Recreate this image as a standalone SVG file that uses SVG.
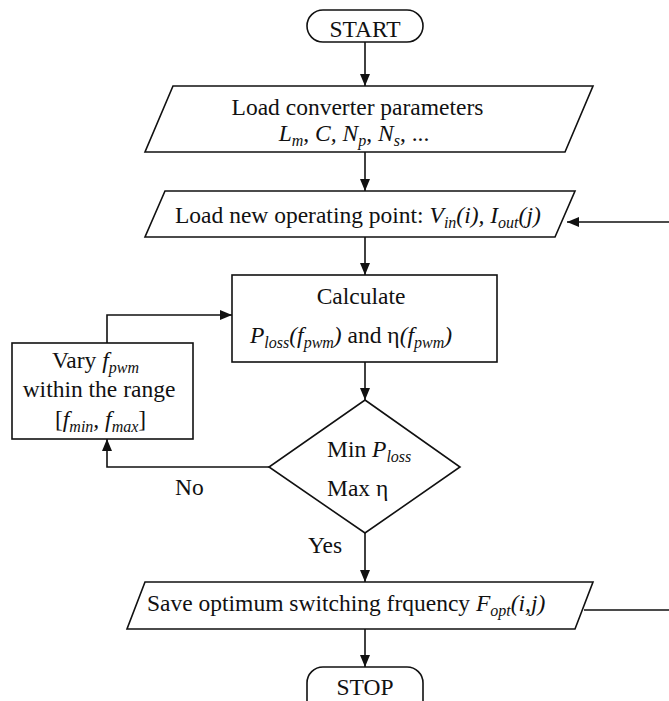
<svg xmlns="http://www.w3.org/2000/svg" width="669" height="701" viewBox="0 0 669 701">
  <style>
    .shape { fill: #fff; stroke: #111; stroke-width: 1.6; }
    .edge { fill: none; stroke: #111; stroke-width: 1.6; }
    text { font-family: 'Liberation Serif', 'Times New Roman', Times, 'DejaVu Serif', serif; font-size: 23.5px; fill: #111; }
    .it { font-style: italic; }
    .sub { font-size: 16px; font-style: italic; }
  </style>
  <defs>
    <marker id="arrow" viewBox="0 0 12 10" refX="12" refY="5" markerWidth="12" markerHeight="10" markerUnits="userSpaceOnUse" orient="auto">
      <path d="M0,0 L12,5 L0,10 z" fill="#111"/>
    </marker>
  </defs>

  <g id="connectors">
    <path class="edge" d="M365,42 V86" marker-end="url(#arrow)"/>
    <path class="edge" d="M365,152 V191" marker-end="url(#arrow)"/>
    <path class="edge" d="M365,237 V275" marker-end="url(#arrow)"/>
    <path class="edge" d="M365,362 V400" marker-end="url(#arrow)"/>
    <path class="edge" d="M365,533 V582" marker-end="url(#arrow)"/>
    <path class="edge" d="M365,629 V667" marker-end="url(#arrow)"/>
    <!-- No branch back to the sweep box -->
    <path class="edge" d="M269,467 H107 V439" marker-end="url(#arrow)"/>
    <!-- sweep box back into the calculation -->
    <path class="edge" d="M107,343 V315 H232" marker-end="url(#arrow)"/>
    <!-- outer loop to the next operating point -->
    <path class="edge" d="M584,610 H671 V222 H567" marker-end="url(#arrow)"/>
  </g>

  <g font-family="Liberation Serif, Times New Roman, serif">
  <g id="start">
    <rect class="shape" x="307" y="10" width="116" height="32" rx="16"/>
    <text x="365" y="37" text-anchor="middle">START</text>
  </g>

  <g id="load-params">
    <polygon class="shape" points="173,86 593,86 565,152 145,152"/>
    <text x="357.5" y="115" text-anchor="middle">Load converter parameters</text>
    <text x="354" y="141" text-anchor="middle"><tspan class="it">L</tspan><tspan class="sub" dy="5">m</tspan><tspan dy="-5">, </tspan><tspan class="it">C, N</tspan><tspan class="sub" dy="5">p</tspan><tspan dy="-5">, </tspan><tspan class="it">N</tspan><tspan class="sub" dy="5">s</tspan><tspan dy="-5">, ...</tspan></text>
  </g>

  <g id="load-point">
    <polygon class="shape" points="165,191 575,191 555,237 145,237"/>
    <text x="175" y="223">Load new operating point: <tspan class="it">V</tspan><tspan class="sub" dy="5">in</tspan><tspan class="it" dy="-5">(i), I</tspan><tspan class="sub" dy="5">out</tspan><tspan class="it" dy="-5">(j)</tspan></text>
  </g>

  <g id="calculate">
    <rect class="shape" x="232" y="275" width="265" height="87"/>
    <text x="361" y="304" text-anchor="middle">Calculate</text>
    <text x="250" y="343"><tspan class="it">P</tspan><tspan class="sub" dy="5">loss</tspan><tspan class="it" dy="-5">(f</tspan><tspan class="sub" dy="5">pwm</tspan><tspan class="it" dy="-5">)</tspan> and η<tspan class="it">(f</tspan><tspan class="sub" dy="5">pwm</tspan><tspan class="it" dy="-5">)</tspan></text>
  </g>

  <g id="vary">
    <rect class="shape" x="12" y="343" width="181" height="96"/>
    <text x="52" y="368">Vary <tspan class="it">f</tspan><tspan class="sub" dy="5">pwm</tspan></text>
    <text x="99" y="397" text-anchor="middle">within the range</text>
    <text x="55" y="427">[<tspan class="it">f</tspan><tspan class="sub" dy="5">min</tspan><tspan class="it" dy="-5">, f</tspan><tspan class="sub" dy="5">max</tspan><tspan dy="-5">]</tspan></text>
  </g>

  <g id="decision">
    <polygon class="shape" points="365,400 460,467 365,533 269,467"/>
    <text x="327" y="457">Min <tspan class="it">P</tspan><tspan class="sub" dy="5">loss</tspan></text>
    <text x="327" y="496">Max η</text>
  </g>

  <g id="labels">
    <text x="175" y="495">No</text>
    <text x="308" y="553">Yes</text>
  </g>

  <g id="save">
    <polygon class="shape" points="145,582 593,582 575,629 127,629"/>
    <text x="147" y="611">Save optimum switching frquency <tspan class="it">F</tspan><tspan class="sub" dy="5">opt</tspan><tspan class="it" dy="-5">(i,j)</tspan></text>
  </g>

  <g id="stop">
    <rect class="shape" x="307" y="667" width="116" height="50" rx="16"/>
    <text x="365" y="695" text-anchor="middle">STOP</text>
  </g>
  </g>
</svg>
